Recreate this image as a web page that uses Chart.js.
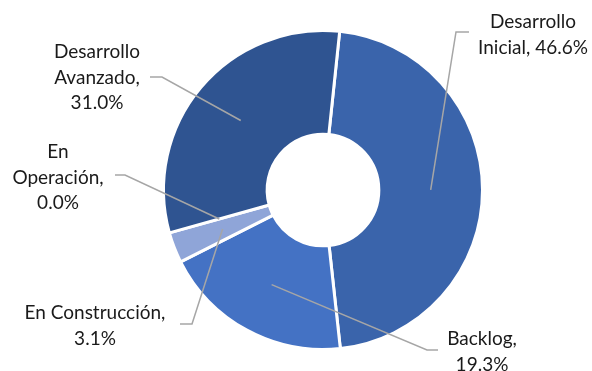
<!DOCTYPE html>
<html>
<head>
<meta charset="utf-8">
<script src="https://cdn.jsdelivr.net/npm/chart.js@4.4.1/dist/chart.umd.min.js"></script>
<style>
html,body{margin:0;padding:0;background:#fff;}
#wrap{width:592px;height:371px;}
</style>
</head>
<body>
<div id="wrap"><canvas id="c" width="592" height="371"></canvas></div>
<script>
const categories = ['Desarrollo Inicial', 'Backlog', 'En Construcción', 'En Operación', 'Desarrollo Avanzado'];
const values = [46.6, 19.3, 3.1, 0.0, 31.0];
const colors = ['#3a64ab', '#4472c4', '#8fa5d8', '#5b7fc7', '#2f5491'];

// label layout: how each label text wraps, where its leader line bends, where text sits
const labelLayout = [
  {lines: ['Desarrollo', 'Inicial, 46.6%'], elbow: [456, 32], end: [469, 32], tx: 533, ty: 22},
  {lines: ['Backlog,', '19.3%'], elbow: [427, 350], end: [438, 350], tx: 482, ty: 339},
  {lines: ['En Construcción,', '3.1%'], elbow: [192, 324], end: [180, 324], tx: 95, ty: 313},
  {lines: ['En', 'Operación,', '0.0%'], elbow: [125, 175], end: [115, 175], tx: 58, ty: 152},
  {lines: ['Desarrollo', 'Avanzado,', '31.0%'], elbow: [162, 77], end: [150, 77], tx: 97, ty: 52}
];
const FONT = '19px Lato, "Liberation Sans", sans-serif';
const LINE_H = 25.5;

const labelPlugin = {
  id: 'leaderLabels',
  afterDatasetsDraw(chart) {
    const ctx = chart.ctx;
    const meta = chart.getDatasetMeta(0);
    ctx.save();
    meta.data.forEach((arc, i) => {
      const L = labelLayout[i];
      const p = arc.tooltipPosition();
      ctx.strokeStyle = '#a6a6a6';
      ctx.lineWidth = 1.5;
      ctx.beginPath();
      ctx.moveTo(p.x, p.y);
      ctx.lineTo(L.elbow[0], L.elbow[1]);
      ctx.lineTo(L.end[0], L.end[1]);
      ctx.stroke();
      ctx.fillStyle = '#1a1a1a';
      ctx.font = FONT;
      ctx.textAlign = 'center';
      ctx.textBaseline = 'middle';
      L.lines.forEach((t, j) => ctx.fillText(t, L.tx, L.ty + j * LINE_H));
    });
    ctx.restore();
  }
};

new Chart(document.getElementById('c'), {
  type: 'doughnut',
  data: {
    labels: categories,
    datasets: [{
      data: values,
      backgroundColor: colors,
      borderColor: '#ffffff',
      borderWidth: 3,
      borderAlign: 'center'
    }]
  },
  options: {
    responsive: false,
    animation: false,
    rotation: 6,
    radius: 159.5,
    cutout: 55.5,
    layout: {padding: {top: 30, bottom: 21, left: 100, right: 46}},
    plugins: {legend: {display: false}, tooltip: {enabled: false}}
  },
  plugins: [labelPlugin]
});
</script>
</body>
</html>
